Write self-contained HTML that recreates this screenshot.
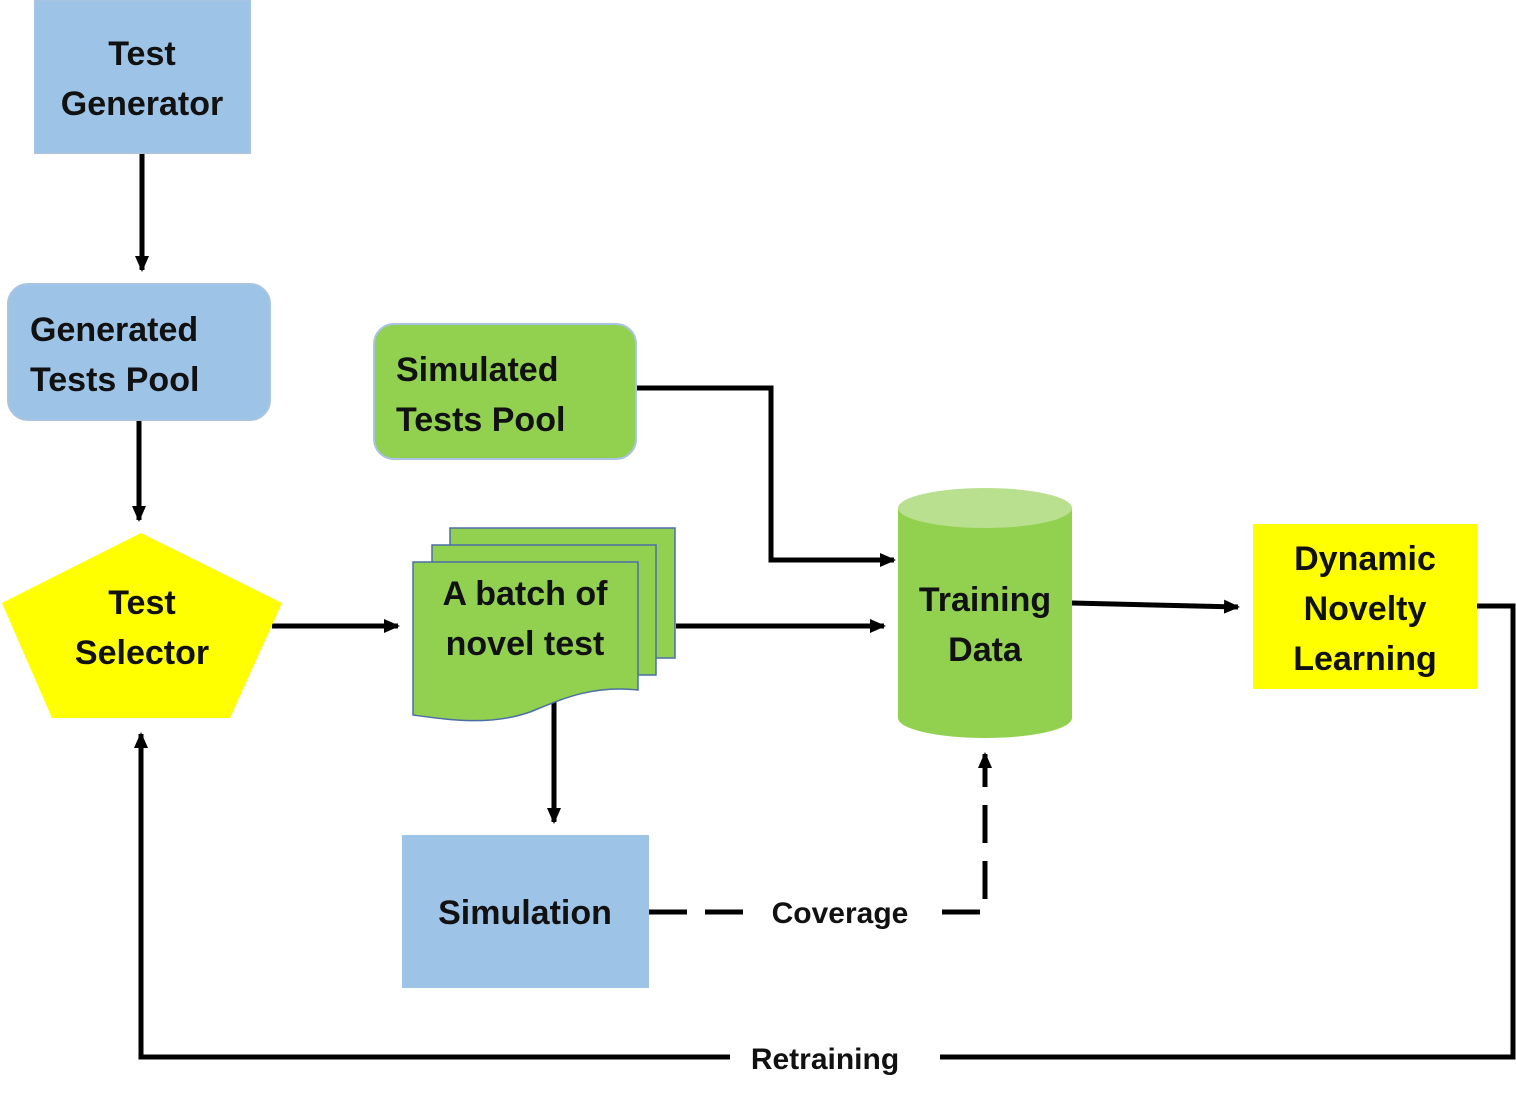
<!DOCTYPE html>
<html><head><style>body{margin:0;background:#fff}svg{display:block}text{font-family:"Liberation Sans",sans-serif;font-weight:bold;fill:#111}</style></head><body>
<svg width="1516" height="1106" viewBox="0 0 1516 1106" xmlns="http://www.w3.org/2000/svg">
<defs><marker id="a" markerWidth="10" markerHeight="10" refX="8" refY="5" orient="auto" markerUnits="userSpaceOnUse" viewBox="0 0 10 10"><path d="M0,0 L10,5 L0,10z" fill="#000"/></marker>
<marker id="b" markerWidth="16" markerHeight="14" refX="14" refY="7" orient="auto" markerUnits="userSpaceOnUse"><path d="M0,0 L16,7 L0,14z" fill="#000"/></marker></defs>
<g stroke="#000" stroke-width="5" fill="none">
<path d="M142,153V270" marker-end="url(#b)"/>
<path d="M139,420V520" marker-end="url(#b)"/>
<path d="M272,626H398" marker-end="url(#b)"/>
<path d="M676,626H884" marker-end="url(#b)"/>
<path d="M636,388H771V560H894" marker-end="url(#b)"/>
<path d="M1072,603L1238,607" marker-end="url(#b)"/>
<path d="M554,700V822" marker-end="url(#b)"/>
<path d="M1477,606H1513V1057H940M730,1057H141V734" marker-end="url(#b)"/>
<path d="M649,912H755M942,912H985V754" stroke-dasharray="38,18" marker-end="url(#b)"/>
</g>
<rect x="35" y="0" width="215" height="153" fill="#9dc3e6" stroke="#a9c4e2" stroke-width="2"/>
<text x="142" y="65" font-size="34" text-anchor="middle">Test</text>
<text x="142" y="115" font-size="34" text-anchor="middle">Generator</text>
<rect x="8" y="284" width="262" height="136" rx="20" fill="#9dc3e6" stroke="#a9c4e2" stroke-width="2"/>
<text x="30" y="341" font-size="34">Generated</text>
<text x="30" y="391" font-size="34">Tests Pool</text>
<rect x="374" y="324" width="262" height="135" rx="20" fill="#92d050" stroke="#a9c4e2" stroke-width="2"/>
<text x="396" y="381" font-size="34">Simulated</text>
<text x="396" y="431" font-size="34">Tests Pool</text>
<polygon points="141,533 282,603 230,718 52,718 2,603" fill="#ffff00"/>
<text x="142" y="614" font-size="34" text-anchor="middle">Test</text>
<text x="142" y="664" font-size="34" text-anchor="middle">Selector</text>
<g fill="#92d050" stroke="#4a6fa5" stroke-width="1.5">
<rect x="450" y="528" width="225" height="130"/>
<rect x="432" y="545" width="224" height="130"/>
<path d="M413,562H638V690C590,685 560,700 530,712C490,726 450,720 413,715Z"/>
</g>
<text x="525" y="605" font-size="34" text-anchor="middle">A batch of</text>
<text x="525" y="655" font-size="34" text-anchor="middle">novel test</text>
<path d="M898,508V718A87,20 0 0 0 1072,718V508Z" fill="#92d050"/>
<ellipse cx="985" cy="508" rx="87" ry="20" fill="#b9e08e"/>
<text x="985" y="611" font-size="34" text-anchor="middle">Training</text>
<text x="985" y="661" font-size="34" text-anchor="middle">Data</text>
<rect x="1253" y="524" width="224" height="165" fill="#ffff00"/>
<text x="1365" y="570" font-size="34" text-anchor="middle">Dynamic</text>
<text x="1365" y="620" font-size="34" text-anchor="middle">Novelty</text>
<text x="1365" y="670" font-size="34" text-anchor="middle">Learning</text>
<rect x="402" y="835" width="247" height="153" fill="#9dc3e6"/>
<text x="525" y="924" font-size="34" text-anchor="middle">Simulation</text>
<text x="840" y="923" font-size="30" text-anchor="middle">Coverage</text>
<text x="825" y="1069" font-size="30" text-anchor="middle">Retraining</text>
</svg>
</body></html>
